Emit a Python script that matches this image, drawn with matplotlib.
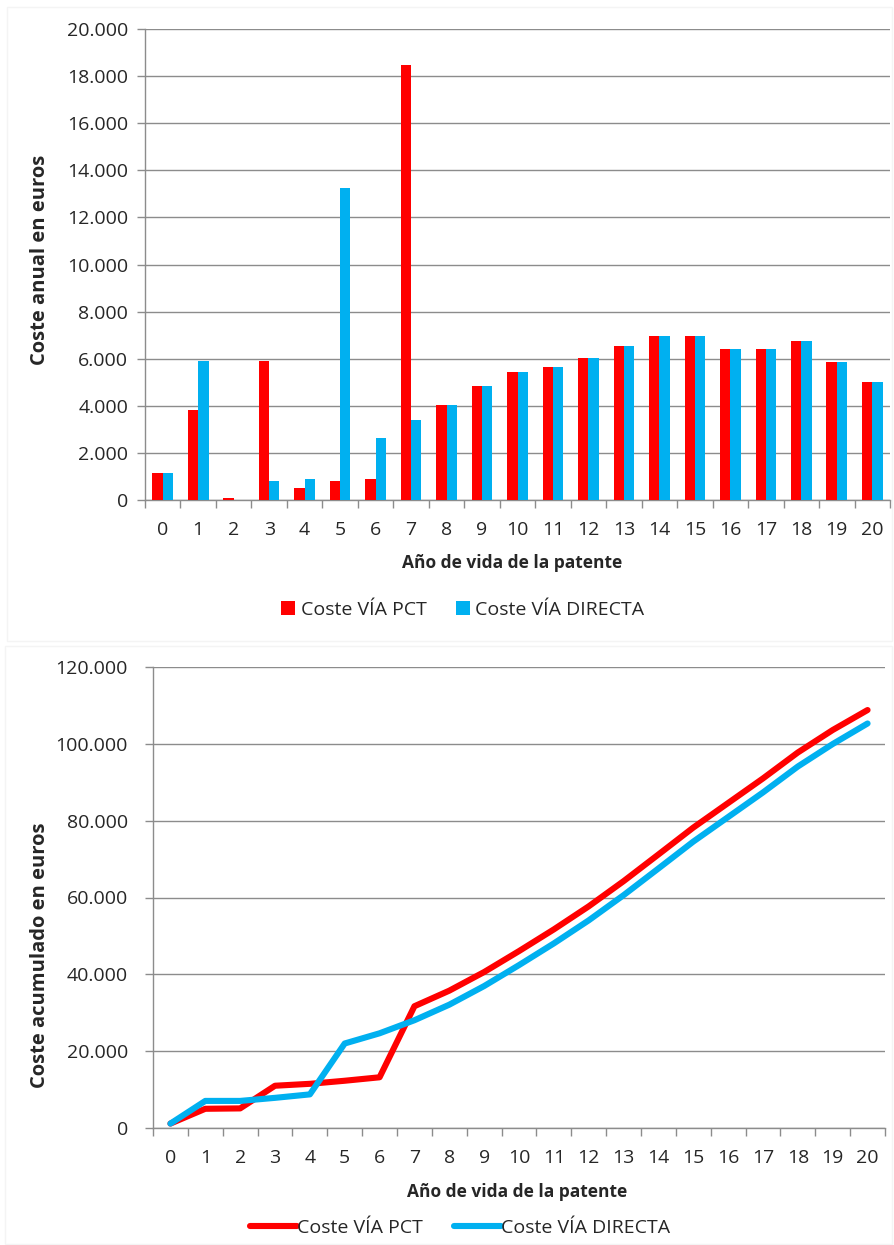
import numpy as np
import matplotlib
matplotlib.use("Agg")
import matplotlib.pyplot as plt
from matplotlib.ticker import FuncFormatter, MultipleLocator
from matplotlib.lines import Line2D
from matplotlib.patches import Patch, Rectangle

plt.rcParams['font.family'] = ['Open Sans', 'DejaVu Sans']

# Years of patent life
years = list(range(21))

# Annual cost (euros) for each filing route
coste_pct = [1150, 3830, 100, 5900, 500, 800, 900, 18470, 4050, 4850, 5450,
             5660, 6020, 6520, 6980, 6980, 6400, 6400, 6750, 5840, 5030]
coste_directa = [1150, 5900, 0, 800, 900, 13250, 2650, 3400, 4050, 4850, 5450,
                 5660, 6020, 6520, 6980, 6980, 6400, 6400, 6750, 5840, 5030]

# Accumulated cost (euros)
acum_pct = [1150, 5000, 5100, 11000, 11500, 12300, 13200, 31700, 35750, 40600,
            46050, 51700, 57700, 64250, 71200, 78200, 84600, 91000, 97750,
            103600, 108800]
acum_directa = [1150, 7050, 7050, 7850, 8750, 22000, 24650, 28050, 32100, 36950,
                42400, 48050, 54050, 60600, 67550, 74550, 80950, 87350, 94100,
                99950, 105300]

labels_series = ["Coste VÍA PCT", "Coste VÍA DIRECTA"]
RED = "#FF0000"
BLUE = "#00B0F0"
GRID = "#8C8C8C"
TXT = "#262626"
FRAME = "#F4F4F4"

W, H = 894, 1245
fig = plt.figure(figsize=(W / 100, H / 100), dpi=100)
fig.patch.set_facecolor("white")

# faint chart-area frames
for (l, t, r, b) in [(7, 7, 892, 641), (5, 646, 892, 1244)]:
    fig.patches.append(Rectangle((l / W, 1 - b / H), (r - l) / W, (b - t) / H,
                                 transform=fig.transFigure, fill=False,
                                 edgecolor=FRAME, linewidth=1))


def px_axes(left, top, right, bottom):
    return fig.add_axes([left / W, 1 - bottom / H, (right - left) / W, (bottom - top) / H])


def thousands(v, pos):
    return f"{int(round(v)):,}".replace(",", ".")


def style_axes(ax, ymax, step, ypad):
    ax.set_xlim(-0.5, 20.5)
    ax.set_ylim(0, ymax)
    ax.yaxis.set_major_locator(MultipleLocator(step))
    ax.yaxis.set_major_formatter(FuncFormatter(thousands))
    ax.set_xticks(years)
    ax.set_xticklabels([str(y) for y in years])
    ax.set_xticks(np.arange(-0.5, 21, 1), minor=True)
    ax.tick_params(axis="x", which="major", length=0, pad=15, labelsize=14, labelcolor=TXT)
    ax.tick_params(axis="x", which="minor", length=6, width=1, color=GRID, direction="out")
    ax.tick_params(axis="y", which="major", length=6, width=1, color=GRID, direction="out",
                   pad=ypad, labelsize=14, labelcolor=TXT)
    ax.grid(axis="y", color=GRID, linewidth=1)
    ax.set_axisbelow(True)
    for s in ["top", "right"]:
        ax.spines[s].set_visible(False)
    for s in ["left", "bottom"]:
        ax.spines[s].set_color(GRID)
        ax.spines[s].set_linewidth(1)


# ---- Annual cost: clustered bars ----
ax1 = px_axes(145, 29, 890, 500)
style_axes(ax1, 20000, 2000, 6)
x = np.arange(len(years))
bw = 0.29
ax1.bar(x - bw / 2, coste_pct, width=bw, color=RED, edgecolor="none", zorder=3)
ax1.bar(x + bw / 2, coste_directa, width=bw, color=BLUE, edgecolor="none", zorder=3)

fig.text(512 / W, 1 - 563 / H, "Año de vida de la patente", ha="center", va="center",
         fontsize=12.5, fontweight="bold", color=TXT)
fig.text(40 / W, 1 - 260 / H, "Coste anual en euros", ha="center", va="center",
         rotation=90, fontsize=14.5, fontweight="bold", color=TXT)
h_bar = [Patch(facecolor=RED), Patch(facecolor=BLUE)]
fig.legend(h_bar, labels_series, loc="center", bbox_to_anchor=(463 / W, 1 - 610 / H),
           ncol=2, frameon=False, fontsize=14, handlelength=0.7, handleheight=0.7,
           handletextpad=0.3, columnspacing=1.5, labelcolor=TXT)

# ---- Accumulated cost: lines ----
ax2 = px_axes(153, 667, 885, 1128)
style_axes(ax2, 120000, 20000, 12)
ax2.plot(x, acum_pct, color=RED, linewidth=4.4, solid_capstyle="round",
         solid_joinstyle="round", zorder=3)
ax2.plot(x, acum_directa, color=BLUE, linewidth=4.4, solid_capstyle="round",
         solid_joinstyle="round", zorder=4)

fig.text(517 / W, 1 - 1192 / H, "Año de vida de la patente", ha="center", va="center",
         fontsize=12.5, fontweight="bold", color=TXT)
fig.text(40 / W, 1 - 955 / H, "Coste acumulado en euros", ha="center", va="center",
         rotation=90, fontsize=14.5, fontweight="bold", color=TXT)
h_line = [Line2D([0], [0], color=RED, linewidth=4.4, solid_capstyle="round"),
          Line2D([0], [0], color=BLUE, linewidth=4.4, solid_capstyle="round")]
fig.legend(h_line, labels_series, loc="center", bbox_to_anchor=(460 / W, 1 - 1228 / H),
           ncol=2, frameon=False, fontsize=14, handlelength=2.4, handletextpad=0.0,
           columnspacing=1.6, labelcolor=TXT)

fig.savefig("out.png", dpi=100, facecolor="white")
